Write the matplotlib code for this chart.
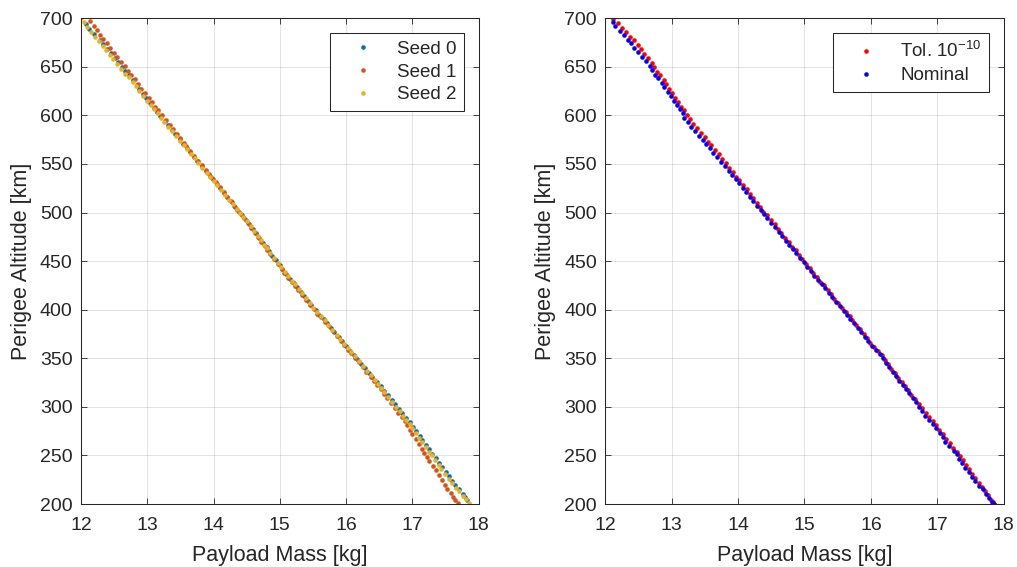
import matplotlib
matplotlib.use("Agg")
import matplotlib.pyplot as plt

# ── data ──────────────────────────────────────────────────────────────────────

seed0_alt = [694, 689, 684, 678, 673, 668, 664, 659, 655, 650, 646, 641, 636, 631,
             627, 622, 618, 613, 608, 603, 599, 594, 590, 585, 581, 576, 571, 566,
             562, 557, 553, 548, 543, 538, 534, 529, 525, 520, 516, 511, 506, 501,
             497, 492, 488, 483, 479, 474, 469, 464, 460, 455, 451, 446, 442, 437,
             432, 427, 423, 418, 414, 409, 405, 400, 395, 390, 386, 381, 377, 372,
             368, 363, 358, 353, 349, 344, 340, 335, 331, 326, 321, 316, 312, 307,
             303, 298, 294, 289, 284, 279, 275, 270, 266, 261, 257, 252, 247, 242,
             238, 233, 229, 224, 220, 215, 210, 207, 204]
seed0_mass = [12.07, 12.12, 12.20, 12.28, 12.33, 12.40, 12.45, 12.51, 12.56, 12.62,
              12.66, 12.72, 12.78, 12.84, 12.88, 12.93, 12.98, 13.04, 13.10, 13.15,
              13.20, 13.27, 13.31, 13.37, 13.42, 13.49, 13.54, 13.60, 13.65, 13.71,
              13.75, 13.82, 13.88, 13.94, 13.99, 14.06, 14.10, 14.16, 14.21, 14.28,
              14.33, 14.38, 14.43, 14.49, 14.53, 14.59, 14.64, 14.69, 14.74, 14.80,
              14.84, 14.89, 14.94, 15.00, 15.04, 15.10, 15.16, 15.22, 15.26, 15.32,
              15.37, 15.42, 15.47, 15.54, 15.59, 15.66, 15.71, 15.77, 15.82, 15.89,
              15.94, 16.00, 16.06, 16.12, 16.17, 16.23, 16.28, 16.35, 16.39, 16.46,
              16.52, 16.58, 16.63, 16.70, 16.74, 16.80, 16.85, 16.91, 16.96, 17.01,
              17.06, 17.11, 17.15, 17.21, 17.25, 17.30, 17.35, 17.41, 17.45, 17.51,
              17.55, 17.60, 17.65, 17.71, 17.76, 17.79, 17.83]

seed1_alt = [697, 692, 688, 683, 679, 674, 669, 664, 660, 655, 651, 646, 642, 637,
             632, 627, 623, 618, 614, 609, 605, 600, 595, 590, 586, 581, 577, 572,
             568, 563, 558, 553, 549, 544, 540, 535, 531, 526, 521, 516, 512, 507,
             503, 498, 494, 489, 484, 479, 475, 470, 466, 461, 457, 452, 447, 442,
             438, 433, 429, 424, 420, 415, 410, 405, 401, 396, 392, 387, 383, 378,
             373, 368, 364, 359, 355, 350, 346, 341, 336, 331, 327, 322, 318, 313,
             309, 304, 299, 294, 290, 285, 281, 276, 272, 267, 262, 257, 253, 248,
             244, 239, 235, 230, 225, 220, 216, 211, 207, 204, 201]
seed1_mass = [12.14, 12.20, 12.24, 12.29, 12.33, 12.40, 12.44, 12.50, 12.55, 12.61,
              12.66, 12.71, 12.76, 12.81, 12.86, 12.91, 12.96, 13.02, 13.07, 13.12,
              13.17, 13.23, 13.29, 13.34, 13.39, 13.45, 13.50, 13.55, 13.59, 13.65,
              13.71, 13.77, 13.82, 13.88, 13.93, 13.98, 14.04, 14.10, 14.16, 14.21,
              14.26, 14.31, 14.36, 14.41, 14.46, 14.52, 14.57, 14.62, 14.67, 14.72,
              14.77, 14.81, 14.86, 14.92, 14.97, 15.03, 15.07, 15.13, 15.18, 15.23,
              15.28, 15.34, 15.40, 15.46, 15.51, 15.56, 15.62, 15.68, 15.74, 15.80,
              15.86, 15.92, 15.97, 16.03, 16.08, 16.14, 16.19, 16.25, 16.30, 16.37,
              16.42, 16.47, 16.52, 16.57, 16.62, 16.68, 16.74, 16.79, 16.84, 16.89,
              16.92, 16.96, 17.00, 17.06, 17.10, 17.14, 17.18, 17.22, 17.25, 17.31,
              17.36, 17.40, 17.45, 17.49, 17.53, 17.58, 17.62, 17.65, 17.69]

seed2_alt = [700, 696, 691, 686, 681, 676, 671, 667, 662, 658, 653, 648, 643, 639,
             634, 630, 625, 620, 615, 611, 606, 602, 597, 593, 588, 584, 579, 574,
             569, 565, 560, 556, 551, 546, 541, 537, 532, 528, 523, 518, 513, 509,
             504, 500, 495, 491, 486, 481, 476, 472, 467, 463, 458, 453, 448, 444,
             439, 435, 430, 426, 421, 417, 412, 407, 402, 398, 393, 389, 384, 379,
             374, 370, 365, 361, 356, 352, 347, 342, 337, 333, 328, 324, 319, 315,
             310, 305, 300, 296, 291, 287, 282, 278, 273, 268, 264, 259, 254, 250,
             245, 240, 236, 231, 226, 222, 217, 213, 208, 205, 201]
seed2_mass = [12.00, 12.05, 12.09, 12.15, 12.21, 12.27, 12.33, 12.38, 12.44, 12.49,
              12.55, 12.61, 12.67, 12.72, 12.78, 12.83, 12.88, 12.94, 13.00, 13.05,
              13.10, 13.16, 13.21, 13.26, 13.32, 13.38, 13.43, 13.49, 13.55, 13.60,
              13.66, 13.72, 13.77, 13.83, 13.90, 13.95, 14.01, 14.06, 14.12, 14.18,
              14.24, 14.29, 14.35, 14.40, 14.45, 14.50, 14.56, 14.61, 14.67, 14.71,
              14.76, 14.80, 14.86, 14.91, 14.97, 15.02, 15.08, 15.13, 15.18, 15.23,
              15.29, 15.34, 15.39, 15.45, 15.50, 15.56, 15.62, 15.68, 15.73, 15.79,
              15.86, 15.91, 15.97, 16.03, 16.08, 16.13, 16.19, 16.26, 16.32, 16.37,
              16.43, 16.48, 16.53, 16.58, 16.64, 16.70, 16.76, 16.81, 16.86, 16.91,
              16.96, 17.00, 17.05, 17.10, 17.14, 17.20, 17.25, 17.29, 17.34, 17.40,
              17.44, 17.50, 17.55, 17.60, 17.66, 17.70, 17.76, 17.81, 17.86]

tol_alt = [699, 695, 690, 686, 681, 677, 672, 668, 663, 659, 654, 650, 645, 641,
           636, 632, 627, 623, 618, 614, 609, 605, 600, 596, 591, 587, 582, 578,
           573, 569, 564, 560, 555, 551, 546, 542, 537, 533, 528, 524, 519, 515,
           510, 506, 501, 497, 492, 488, 483, 479, 474, 470, 465, 461, 456, 452,
           447, 443, 438, 434, 429, 425, 420, 416, 411, 407, 402, 398, 393, 389,
           384, 380, 375, 371, 366, 362, 357, 353, 348, 344, 339, 335, 330, 326,
           321, 317, 312, 308, 303, 299, 294, 290, 285, 281, 276, 272, 267, 263,
           258, 254, 249, 245, 240, 236, 231, 227, 222, 218, 213, 209, 204, 202, 200]
tol_mass = [12.12, 12.19, 12.26, 12.31, 12.37, 12.43, 12.49, 12.54, 12.58, 12.64,
            12.70, 12.74, 12.78, 12.83, 12.88, 12.92, 12.96, 13.00, 13.05, 13.09,
            13.14, 13.18, 13.23, 13.28, 13.33, 13.39, 13.45, 13.50, 13.55, 13.60,
            13.66, 13.71, 13.76, 13.82, 13.87, 13.92, 13.97, 14.02, 14.07, 14.13,
            14.18, 14.23, 14.28, 14.33, 14.38, 14.44, 14.49, 14.55, 14.60, 14.65,
            14.70, 14.76, 14.81, 14.87, 14.92, 14.97, 15.02, 15.08, 15.13, 15.19,
            15.24, 15.30, 15.35, 15.40, 15.45, 15.51, 15.57, 15.62, 15.68, 15.72,
            15.77, 15.83, 15.89, 15.94, 15.99, 16.05, 16.11, 16.16, 16.21, 16.26,
            16.31, 16.36, 16.41, 16.47, 16.52, 16.56, 16.61, 16.67, 16.72, 16.77,
            16.83, 16.88, 16.93, 16.98, 17.03, 17.08, 17.13, 17.19, 17.24, 17.29,
            17.34, 17.38, 17.43, 17.48, 17.52, 17.57, 17.62, 17.67, 17.71, 17.76,
            17.81, 17.84, 17.86]

nom_alt = [696, 692, 687, 683, 678, 674, 669, 665, 660, 656, 651, 647, 642, 638,
           633, 629, 624, 620, 615, 611, 606, 602, 597, 593, 588, 584, 579, 575,
           570, 566, 561, 557, 552, 548, 543, 539, 534, 530, 525, 521, 516, 512,
           507, 503, 498, 494, 489, 485, 480, 476, 471, 467, 462, 458, 453, 449,
           444, 440, 435, 431, 426, 422, 417, 413, 408, 404, 399, 395, 390, 386,
           381, 377, 372, 368, 363, 359, 354, 350, 345, 341, 336, 332, 327, 323,
           318, 314, 309, 305, 300, 296, 291, 287, 282, 278, 273, 269, 264, 260,
           255, 251, 246, 242, 237, 233, 228, 224, 219, 215, 210, 206, 202, 200]
nom_mass = [12.12, 12.15, 12.23, 12.29, 12.34, 12.39, 12.44, 12.49, 12.55, 12.61,
            12.67, 12.71, 12.75, 12.80, 12.85, 12.89, 12.94, 12.99, 13.04, 13.08,
            13.13, 13.17, 13.19, 13.25, 13.30, 13.35, 13.41, 13.47, 13.52, 13.58,
            13.63, 13.69, 13.75, 13.80, 13.86, 13.91, 13.97, 14.02, 14.07, 14.12,
            14.18, 14.23, 14.29, 14.34, 14.39, 14.44, 14.50, 14.55, 14.61, 14.66,
            14.72, 14.77, 14.83, 14.88, 14.94, 14.99, 15.04, 15.10, 15.15, 15.20,
            15.26, 15.31, 15.37, 15.42, 15.48, 15.53, 15.59, 15.64, 15.69, 15.74,
            15.80, 15.85, 15.91, 15.96, 16.02, 16.07, 16.13, 16.18, 16.23, 16.28,
            16.33, 16.38, 16.43, 16.48, 16.53, 16.58, 16.63, 16.68, 16.72, 16.77,
            16.82, 16.88, 16.93, 16.98, 17.04, 17.08, 17.12, 17.18, 17.25, 17.29,
            17.33, 17.37, 17.42, 17.47, 17.52, 17.57, 17.63, 17.68, 17.73, 17.78,
            17.82, 17.86]

x_ticks = [12, 13, 14, 15, 16, 17, 18]
y_ticks = [200, 250, 300, 350, 400, 450, 500, 550, 600, 650, 700]

# ── style ─────────────────────────────────────────────────────────────────────

TXT = "#262626"
C_SEED = ["#0072BD", "#D95319", "#EDB120"]

plt.rcParams.update({
    "font.family": ["Liberation Sans", "DejaVu Sans"],
    "font.size": 14,
    "text.color": TXT,
    "axes.labelcolor": TXT,
    "xtick.color": TXT,
    "ytick.color": TXT,
    "mathtext.fontset": "custom",
    "mathtext.rm": "Liberation Sans",
})


def style_axes(ax):
    ax.set_xlim(12, 18)
    ax.set_ylim(200, 700)
    ax.set_xticks(x_ticks)
    ax.set_yticks(y_ticks)
    ax.grid(True, color=TXT, alpha=0.15, linewidth=0.6)
    ax.set_axisbelow(True)
    ax.tick_params(direction="in", top=True, right=True, length=4,
                   width=0.6, labelsize=14)
    ax.tick_params(axis="x", pad=9)
    ax.tick_params(axis="y", pad=6)
    for s in ax.spines.values():
        s.set_color(TXT)
        s.set_linewidth(0.75)
    ax.set_xlabel("Payload Mass [kg]", fontsize=15.5, labelpad=8)
    ax.set_ylabel("Perigee Altitude [km]", fontsize=15.5, labelpad=6)


fig = plt.figure(figsize=(10.17, 5.67), dpi=100)
ax1 = fig.add_axes([0.0796, 0.111, 0.391, 0.857])
ax2 = fig.add_axes([0.595, 0.111, 0.392, 0.857])

dot = dict(linestyle="none", marker="o", markersize=3.3, markeredgewidth=0)

ax1.plot(seed0_mass, seed0_alt, color=C_SEED[0], label="Seed 0", **dot)
ax1.plot(seed1_mass, seed1_alt, color=C_SEED[1], label="Seed 1", **dot)
ax1.plot(seed2_mass, seed2_alt, color=C_SEED[2], label="Seed 2", **dot)

ax2.plot(tol_mass, tol_alt, color="#FF0000", label=r"Tol. 10$^{\mathregular{-10}}$", **dot)
ax2.plot(nom_mass, nom_alt, color="#0000FF", label="Nominal", **dot)

for ax in (ax1, ax2):
    style_axes(ax)
    leg = ax.legend(loc="upper right", fontsize=13.5, borderaxespad=0.8,
                    handlelength=2.7, handletextpad=0.45, borderpad=0.4,
                    labelspacing=0.3, markerscale=1.0, fancybox=False,
                    framealpha=1, edgecolor=TXT)
    leg.get_frame().set_linewidth(0.75)

fig.savefig("out.png", dpi=100)
